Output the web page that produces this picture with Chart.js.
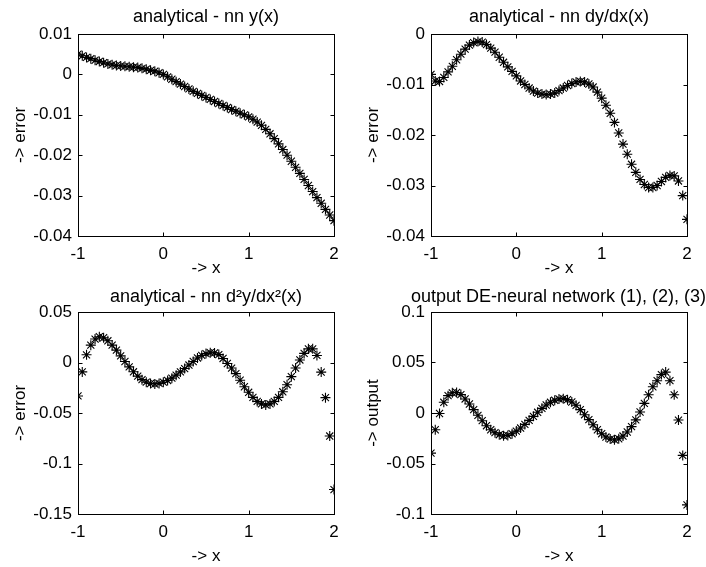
<!DOCTYPE html>
<html>
<head>
<meta charset="utf-8">
<script src="https://cdn.jsdelivr.net/npm/chart.js@4"></script>
<style>
  html, body { margin: 0; padding: 0; background: #fff; }
  #fig { position: relative; width: 706px; height: 567px; }
  canvas { position: absolute; }
</style>
</head>
<body>
<div id="fig">
  <canvas id="c1" width="353" height="283" style="left:0;top:0;width:353px;height:283px"></canvas>
  <canvas id="c2" width="353" height="283" style="left:353px;top:0;width:353px;height:283px"></canvas>
  <canvas id="c3" width="353" height="284" style="left:0;top:283px;width:353px;height:284px"></canvas>
  <canvas id="c4" width="353" height="284" style="left:353px;top:283px;width:353px;height:284px"></canvas>
</div>
<script>
const FONT = "'Liberation Sans', Arial, Helvetica, sans-serif";

const xValues = [-1, -0.95, -0.9, -0.85, -0.8, -0.75, -0.7, -0.65, -0.6, -0.55,
  -0.5, -0.45, -0.4, -0.35, -0.3, -0.25, -0.2, -0.15, -0.1, -0.05,
  0, 0.05, 0.1, 0.15, 0.2, 0.25, 0.3, 0.35, 0.4, 0.45,
  0.5, 0.55, 0.6, 0.65, 0.7, 0.75, 0.8, 0.85, 0.9, 0.95,
  1, 1.05, 1.1, 1.15, 1.2, 1.25, 1.3, 1.35, 1.4, 1.45,
  1.5, 1.55, 1.6, 1.65, 1.7, 1.75, 1.8, 1.85, 1.9, 1.95, 2];
const xTicks = [-1, 0, 1, 2];

// analytical - nn y(x)
const errY = [0.0050, 0.0046, 0.0042, 0.0039, 0.0035, 0.0032, 0.0029, 0.0026, 0.0024, 0.0022,
  0.0021, 0.0020, 0.0019, 0.0018, 0.0017, 0.0015, 0.0013, 0.0010, 0.0008, 0.0004,
  0.0000, -0.0006, -0.0012, -0.0018, -0.0024, -0.0030, -0.0036, -0.0042, -0.0047, -0.0052,
  -0.0057, -0.0062, -0.0067, -0.0072, -0.0077, -0.0082, -0.0087, -0.0091, -0.0096, -0.0100,
  -0.0105, -0.0111, -0.0118, -0.0126, -0.0136, -0.0147, -0.0159, -0.0172, -0.0186, -0.0200,
  -0.0215, -0.0230, -0.0245, -0.0260, -0.0275, -0.0290, -0.0305, -0.0319, -0.0334, -0.0348, -0.0362];

// analytical - nn dy/dx(x)
const errDy = [-0.0080, -0.0093, -0.0094, -0.0086, -0.0075, -0.0064, -0.0051, -0.0040, -0.0030, -0.0022,
  -0.0017, -0.0015, -0.0016, -0.0021, -0.0028, -0.0036, -0.0046, -0.0056, -0.0065, -0.0074,
  -0.0083, -0.0093, -0.0100, -0.0107, -0.0113, -0.0117, -0.0119, -0.0120, -0.0119, -0.0117,
  -0.0112, -0.0107, -0.0102, -0.0098, -0.0095, -0.0094, -0.0095, -0.0099, -0.0105, -0.0115,
  -0.0127, -0.0141, -0.0157, -0.0175, -0.0196, -0.0218, -0.0238, -0.0258, -0.0274, -0.0288,
  -0.0298, -0.0304, -0.0304, -0.0300, -0.0292, -0.0284, -0.0280, -0.0281, -0.0291, -0.0320, -0.0367];

// analytical - nn d2y/dx2(x)
const errD2y = [-0.0331, -0.0093, 0.0076, 0.0172, 0.0232, 0.0255, 0.0245, 0.0215, 0.0172, 0.0123,
  0.0066, 0.0010, -0.0043, -0.0092, -0.0135, -0.0170, -0.0195, -0.0208, -0.0213, -0.0207,
  -0.0195, -0.0178, -0.0155, -0.0125, -0.0093, -0.0060, -0.0025, 0.0010, 0.0045, 0.0070,
  0.0088, 0.0097, 0.0095, 0.0078, 0.0040, -0.0010, -0.0055, -0.0110, -0.0175, -0.0240,
  -0.0295, -0.0345, -0.0385, -0.0410, -0.0420, -0.0410, -0.0385, -0.0345, -0.0290, -0.0220,
  -0.0140, -0.0055, 0.0025, 0.0090, 0.0135, 0.0135, 0.0070, -0.0095, -0.0348, -0.0728, -0.1258];

// output DE-neural network
const netOut = [-0.0397, -0.0166, -0.0005, 0.0106, 0.0172, 0.0200, 0.0203, 0.0182, 0.0139, 0.0089,
  0.0033, -0.0023, -0.0076, -0.0126, -0.0166, -0.0195, -0.0215, -0.0225, -0.0222, -0.0205,
  -0.0179, -0.0149, -0.0113, -0.0073, -0.0033, 0.0007, 0.0046, 0.0079, 0.0106, 0.0126,
  0.0139, 0.0142, 0.0132, 0.0109, 0.0076, 0.0033, -0.0017, -0.0066, -0.0116, -0.0166,
  -0.0205, -0.0238, -0.0258, -0.0265, -0.0255, -0.0228, -0.0188, -0.0135, -0.0068, 0.0010,
  0.0095, 0.0180, 0.0260, 0.0320, 0.0380, 0.0405, 0.0320, 0.0180, -0.0070, -0.0420, -0.0910];

// box round the axes with inward tick marks on all four sides
const matlabBox = {
  id: "matlabBox",
  afterDraw(chart) {
    const { ctx, chartArea: a, scales } = chart;
    const len = 4;
    const l = Math.round(a.left) + .5, r = Math.round(a.right) + .5;
    const t = Math.round(a.top) + .5, b = Math.round(a.bottom) + .5;
    ctx.save();
    ctx.strokeStyle = "#000";
    ctx.lineWidth = 1;
    ctx.beginPath();
    scales.x.ticks.forEach(tk => {
      const px = Math.round(scales.x.getPixelForValue(tk.value)) + .5;
      ctx.moveTo(px, b); ctx.lineTo(px, b - len);
      ctx.moveTo(px, t); ctx.lineTo(px, t + len);
    });
    scales.y.ticks.forEach(tk => {
      const py = Math.round(scales.y.getPixelForValue(tk.value)) + .5;
      ctx.moveTo(l, py); ctx.lineTo(l + len, py);
      ctx.moveTo(r, py); ctx.lineTo(r - len, py);
    });
    ctx.stroke();
    ctx.strokeRect(l, t, r - l, b - t);
    ctx.restore();
  }
};

function fmt(v) {
  return String(Number(Number(v).toFixed(4)));
}

function makeAxes(id, opts) {
  const pts = xValues.map((x, i) => ({ x, y: opts.values[i] }));
  return new Chart(document.getElementById(id), {
    type: "scatter",
    data: {
      datasets: [{
        data: pts,
        pointStyle: "star",
        pointRadius: 5,
        borderColor: "#000",
        backgroundColor: "#000",
        borderWidth: 1.1,
        showLine: false,
        xAxisID: "x",
        yAxisID: "y",
      }],
    },
    options: {
      responsive: false,
      animation: false,
      devicePixelRatio: 1,
      layout: { padding: 0 },
      plugins: {
        legend: { display: false },
        tooltip: { enabled: false },
        title: {
          display: true,
          fullSize: opts.titleWide,
          align: opts.titleWide ? "end" : "center",
          text: opts.title,
          color: "#000",
          font: { family: FONT, size: 18, weight: "normal", lineHeight: 1.2 },
          padding: opts.titlePad,
        },
      },
      scales: {
        x: {
          type: "linear",
          min: -1,
          max: 2,
          afterBuildTicks: s => { s.ticks = xTicks.map(v => ({ value: v })); },
          afterFit: s => { s.height = opts.xHeight; },
          grid: { display: false, drawTicks: false },
          border: { display: false },
          ticks: { color: "#000", padding: 8, maxRotation: 0, font: { family: FONT, size: 17 }, callback: fmt },
          title: {
            display: true,
            text: "-> x",
            color: "#000",
            font: { family: FONT, size: 17, lineHeight: 1.2 },
            padding: { top: 0, bottom: opts.xTitleBottom },
          },
        },
        y: {
          type: "linear",
          position: "left",
          min: opts.yMin,
          max: opts.yMax,
          afterBuildTicks: s => { s.ticks = opts.yTicks.map(v => ({ value: v })); },
          afterFit: s => { s.width = 78; },
          grid: { display: false, drawTicks: false },
          border: { display: false },
          ticks: { color: "#000", padding: 6, font: { family: FONT, size: 17 }, callback: fmt },
          title: {
            display: true,
            text: opts.yTitle,
            color: "#000",
            font: { family: FONT, size: 17, lineHeight: 1.2 },
            padding: { top: 10, bottom: 0 },
          },
        },
        // empty margin on the right of the axes box
        gap: {
          type: "linear",
          position: "right",
          afterFit: s => { s.width = 19; },
          grid: { display: false, drawTicks: false },
          border: { display: false },
          ticks: { display: false },
        },
      },
    },
    plugins: [matlabBox],
  });
}

makeAxes("c1", {
  title: "analytical - nn y(x)", yTitle: "-> error", values: errY,
  yMin: -0.04, yMax: 0.01, yTicks: [-0.04, -0.03, -0.02, -0.01, 0, 0.01],
  titlePad: { top: 6, bottom: 6.4 }, titleWide: false, xHeight: 47, xTitleBottom: 4.8,
});
makeAxes("c2", {
  title: "analytical - nn dy/dx(x)", yTitle: "-> error", values: errDy,
  yMin: -0.04, yMax: 0, yTicks: [-0.04, -0.03, -0.02, -0.01, 0],
  titlePad: { top: 6, bottom: 6.4 }, titleWide: false, xHeight: 47, xTitleBottom: 4.8,
});
makeAxes("c3", {
  title: "analytical - nn d²y/dx²(x)", yTitle: "-> error", values: errD2y,
  yMin: -0.15, yMax: 0.05, yTicks: [-0.15, -0.1, -0.05, 0, 0.05],
  titlePad: { top: 3, bottom: 4.4 }, titleWide: false, xHeight: 53, xTitleBottom: 0.8,
});
makeAxes("c4", {
  title: "output DE-neural network (1), (2), (3)", yTitle: "-> output", values: netOut,
  yMin: -0.1, yMax: 0.1, yTicks: [-0.1, -0.05, 0, 0.05, 0.1],
  titlePad: { top: 3, bottom: 4.4 }, titleWide: true, xHeight: 53, xTitleBottom: 0.8,
});
</script>
</body>
</html>
